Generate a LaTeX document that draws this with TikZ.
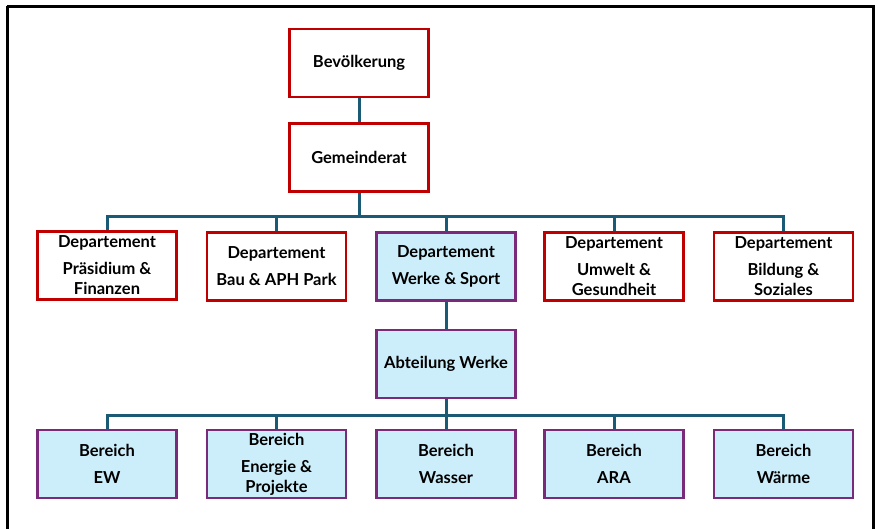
\documentclass[tikz,border=0pt]{standalone}
\usepackage{fontspec}
\setmainfont{Lato}
\definecolor{redb}{HTML}{C00000}
\definecolor{purb}{HTML}{7B2A7B}
\definecolor{bluef}{HTML}{CCEEFB}
\definecolor{conn}{HTML}{1B5A75}
\begin{document}
\begin{tikzpicture}[x=1pt,y=-1pt,
  box/.style={draw, line width=2.8pt, minimum width=139pt, minimum height=68pt,
    inner sep=0pt, align=center, font=\fontsize{16.5}{20}\selectfont\bfseries},
  redbox/.style={box, draw=redb, fill=white},
  purbox/.style={box, draw=purb, fill=bluef},
  link/.style={draw=conn, line width=3pt}]
\useasboundingbox (0,0) rectangle (878,528);
\fill[white] (0,0) rectangle (878,528);
\draw[line width=3pt, black] (7,6) -- (873.5,6) -- (873.5,540) (7,6) -- (7,540);
% nodes
\node[redbox] (bev) at (359,63) {Bevölkerung};
\node[redbox] (gem) at (359,157.5) {Gemeinderat};
\node[redbox] (d1) at (107,265.5) {Departement\\[7pt]Präsidium \&\\Finanzen};
\node[redbox] (d2) at (276.5,266.5) {Departement\\[7pt]Bau \& APH Park};
\node[purbox] (d3) at (446,266.5) {Departement\\[7pt]Werke \& Sport};
\node[redbox] (d4) at (614,266.5) {Departement\\[7pt]Umwelt \&\\Gesundheit};
\node[redbox] (d5) at (783.5,266.5) {Departement\\[7pt]Bildung \&\\Soziales};
\node[purbox] (abt) at (446,364) {Abteilung Werke};
\node[purbox] (b1) at (107,464) {Bereich\\[7pt]EW};
\node[purbox] (b2) at (276.5,464) {Bereich\\[7pt]Energie \&\\Projekte};
\node[purbox] (b3) at (446,464) {Bereich\\[7pt]Wasser};
\node[purbox] (b4) at (614,464) {Bereich\\[7pt]ARA};
\node[purbox] (b5) at (783.5,464) {Bereich\\[7pt]Wärme};
\coordinate (bus1) at (359,216);
\coordinate (bus2) at (446,415);
% connectors
\path[link] (bev) -- (gem);
\path[link] (gem) -- (bus1);
\foreach \n in {d1,d2,d3,d4,d5} { \path[link] (bus1) -| (\n.north); }
\path[link] (d3) -- (abt);
\path[link] (abt) -- (bus2);
\foreach \n in {b1,b2,b3,b4,b5} { \path[link] (bus2) -| (\n.north); }
\end{tikzpicture}
\end{document}
